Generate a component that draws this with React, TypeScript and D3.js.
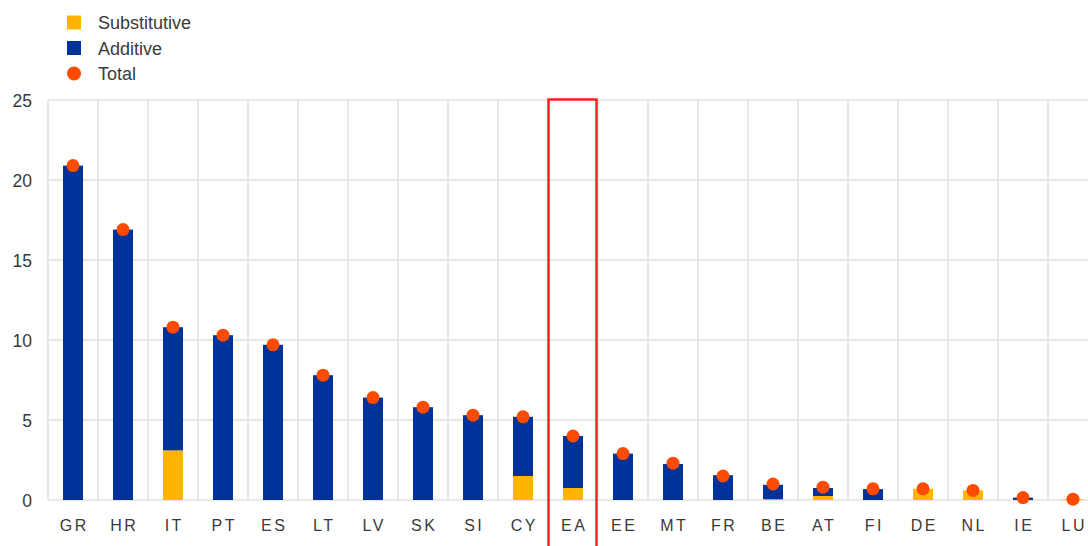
import React from 'react';
import * as d3 from 'd3';

// country codes, left to right
const countries = ['GR', 'HR', 'IT', 'PT', 'ES', 'LT', 'LV', 'SK', 'SI', 'CY', 'EA', 'EE', 'MT', 'FR', 'BE', 'AT', 'FI', 'DE', 'NL', 'IE', 'LU'];
const substitutive = [0, 0, 3.1, 0, 0, 0, 0, 0, 0, 1.5, 0.75, 0, 0, 0, 0.05, 0.25, 0, 0.7, 0.6, 0, 0.05];
const additive = [20.9, 16.9, 7.7, 10.3, 9.7, 7.8, 6.4, 5.8, 5.3, 3.7, 3.25, 2.9, 2.25, 1.55, 0.9, 0.5, 0.68, 0, 0, 0.15, 0];
const total = [20.9, 16.9, 10.8, 10.3, 9.7, 7.8, 6.4, 5.8, 5.3, 5.2, 4.0, 2.9, 2.3, 1.5, 1.0, 0.8, 0.7, 0.7, 0.6, 0.15, 0.05];
const yTicks = [0, 5, 10, 15, 20, 25];
const highlight = 'EA';

const legendItems = [
	{ label: 'Substitutive', color: '#ffb400', shape: 'rect' },
	{ label: 'Additive', color: '#003299', shape: 'rect' },
	{ label: 'Total', color: '#ff4b00', shape: 'circle' },
];

const W = 1088;
const H = 546;
const FONT = '"Liberation Sans", Arial, sans-serif';
const TEXT = '#3a3a3a';

export default function App() {
	const x = d3.scaleBand().domain(countries).range([48, 48 + countries.length * 50]).padding(0);
	const y = d3.scaleLinear().domain([0, 25]).range([500, 100]);
	const bw = 20;
	const gridColor = '#e1e1e1';
	const ls = 2.5;

	const hx = x(highlight) as number;

	return (
		<svg width={W} height={H} style={{ position: 'absolute', left: 0, top: 0, background: '#fff' }} fontFamily={FONT}>
			{/* legend */}
			{legendItems.map((d, i) => {
				const cy = 22.5 + i * 25.5;
				return (
					<g key={d.label}>
						{d.shape === 'rect'
							? <rect x={67} y={cy - 7} width={14} height={14} fill={d.color} />
							: <circle cx={74} cy={cy} r={7} fill={d.color} />}
						<text x={98} y={cy + 6.5} fontSize={18} fill={TEXT}>{d.label}</text>
					</g>
				);
			})}

			{/* grid */}
			{yTicks.map(t => (
				<g key={t}>
					<line x1={48} x2={W} y1={y(t)} y2={y(t)} stroke={gridColor} strokeWidth={1.5} />
					<text x={32} y={y(t) + 6.5} textAnchor="end" fontSize={17.5} fill={TEXT}>{t}</text>
				</g>
			))}
			{countries.map(c => (
				<line key={c} x1={(x(c) as number)} x2={(x(c) as number)} y1={y(25)} y2={y(0)} stroke={gridColor} strokeWidth={1.5} />
			))}

			{/* bars */}
			{countries.map((c, i) => {
				const cx = (x(c) as number) + x.bandwidth() / 2;
				const s = substitutive[i];
				const a = additive[i];
				return (
					<g key={c}>
						{s > 0 && <rect x={cx - bw / 2} y={y(s)} width={bw} height={y(0) - y(s)} fill="#ffb400" />}
						{a > 0 && <rect x={cx - bw / 2} y={y(s + a)} width={bw} height={y(s) - y(s + a)} fill="#003299" />}
						<circle cx={cx} cy={y(total[i])} r={6.5} fill="#ff4b00" />
						<text x={cx + ls / 2} y={531} textAnchor="middle" fontSize={16} letterSpacing={ls} fill={TEXT}>{c}</text>
					</g>
				);
			})}

			{/* highlight box */}
			<rect x={hx + 0.5} y={99.5} width={x.bandwidth() - 2} height={H} fill="none" stroke="#ff2020" strokeWidth={2.5} />
		</svg>
	);
}
